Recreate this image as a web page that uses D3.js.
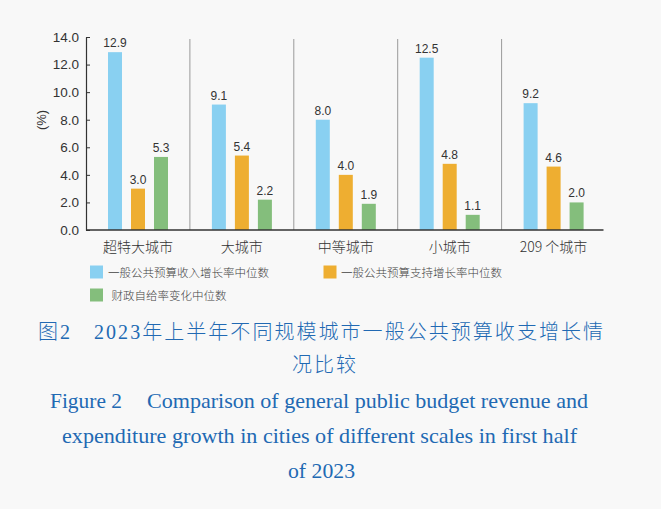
<!DOCTYPE html>
<html><head><meta charset="utf-8">
<script src="https://cdn.jsdelivr.net/npm/d3@7"></script>
<style>
html,body{margin:0;padding:0;background:#f8f8f8;}
svg{display:block;}
</style></head>
<body>
<svg id="chart" width="661" height="509"></svg>
<script>
const categories = ["超特大城市", "大城市", "中等城市", "小城市", "209 个城市"];
const seriesNames = ["一般公共预算收入增长率中位数", "一般公共预算支持增长率中位数", "财政自给率变化中位数"];
const revenueGrowth = [12.9, 9.1, 8.0, 12.5, 9.2];
const expenditureGrowth = [3.0, 5.4, 4.0, 4.8, 4.6];
const selfSufficiencyChange = [5.3, 2.2, 1.9, 1.1, 2.0];
const yTicks = [0, 2, 4, 6, 8, 10, 12, 14];
const colors = ["#89d0f1", "#eeae31", "#84be7c"];
const seriesValues = [revenueGrowth, expenditureGrowth, selfSufficiencyChange];

const svg = d3.select("#chart");
svg.append("rect").attr("width", 661).attr("height", 509).attr("fill", "#f8f8f8");

const x0 = 86, x1 = 605.5, yBase = 230, yTop = 37;
const x = d3.scaleBand().domain(categories).range([x0, x1]);
const xs = d3.scaleBand().domain(d3.range(3)).range([22, 82]).paddingInner(9/23).paddingOuter(0);
const y = d3.scaleLinear().domain([0, 14]).range([yBase, yTop]);

const numFont = "'Liberation Sans', Arial, Helvetica, sans-serif";
const cjkFont = "'Noto Sans CJK SC', 'Noto Sans', sans-serif";

// separators
svg.append("g").selectAll("line").data(categories.slice(1)).join("line")
  .attr("x1", d => x(d)).attr("x2", d => x(d))
  .attr("y1", y(14) + 2).attr("y2", yBase)
  .attr("stroke", "#9a9a9a").attr("stroke-width", 1);

// bars
const groups = svg.append("g").selectAll("g").data(categories).join("g")
  .attr("transform", d => `translate(${x(d)},0)`);
groups.selectAll("rect").data((d, i) => seriesValues.map((s, k) => ({k, v: s[i]}))).join("rect")
  .attr("x", d => xs(d.k)).attr("width", xs.bandwidth())
  .attr("y", d => y(d.v)).attr("height", d => yBase - y(d.v))
  .attr("fill", d => colors[d.k]);
groups.selectAll("text").data((d, i) => seriesValues.map((s, k) => ({k, v: s[i]}))).join("text")
  .attr("x", d => xs(d.k) + xs.bandwidth() / 2).attr("y", d => y(d.v) - 5)
  .attr("text-anchor", "middle").attr("font-family", numFont).attr("font-size", 12)
  .attr("fill", "#333").text(d => d.v.toFixed(1));

// y axis
const yAxis = d3.axisLeft(y).tickValues(yTicks).tickFormat(d3.format(".1f"))
  .tickSizeInner(-4).tickSizeOuter(0).tickPadding(7);
const ya = svg.append("g").attr("transform", `translate(${x0},0)`).call(yAxis);
ya.select(".domain").attr("stroke", "#333").attr("stroke-width", 1.2);
ya.selectAll(".tick line").attr("stroke", "#333");
ya.selectAll(".tick text").attr("font-family", numFont).attr("font-size", 13.5).attr("fill", "#333");

// x baseline
svg.append("line").attr("x1", x0).attr("x2", x1 - 2).attr("y1", yBase).attr("y2", yBase)
  .attr("stroke", "#333").attr("stroke-width", 1.5);

// category labels
svg.append("g").selectAll("text").data(categories).join("text")
  .attr("x", d => x(d) + x.bandwidth() / 2).attr("y", 251.5)
  .attr("text-anchor", "middle").attr("font-family", cjkFont).attr("font-size", 14)
  .attr("font-weight", 300).attr("fill", "#333").text(d => d);

// y label
svg.append("text").attr("transform", "translate(46,120) rotate(-90)")
  .attr("text-anchor", "middle").attr("font-family", numFont).attr("font-size", 13)
  .attr("fill", "#333").text("(%)");

// legend
const legendPos = [[90, 265.5, 108], [323.5, 265.5, 341], [90, 288.5, 111.5]];
const lg = svg.append("g").selectAll("g").data(seriesNames).join("g");
lg.append("rect").attr("x", (d, i) => legendPos[i][0]).attr("y", (d, i) => legendPos[i][1])
  .attr("width", 13).attr("height", 13).attr("fill", (d, i) => colors[i]);
lg.append("text").attr("x", (d, i) => legendPos[i][2]).attr("y", (d, i) => legendPos[i][1] + 6.5)
  .attr("dominant-baseline", "central").attr("font-family", cjkFont).attr("font-size", 11.5)
  .attr("font-weight", 300).attr("fill", "#444").text(d => d);

// caption
const capColor = "#2169b3";
const serifMix = "'Liberation Serif', 'Times New Roman', 'Noto Sans CJK SC', serif";
const cap = svg.append("g").attr("fill", capColor);
cap.append("text").attr("x", 38).attr("y", 339).attr("font-family", serifMix).attr("font-size", 20)
  .attr("font-weight", 300).attr("textLength", 32).attr("lengthAdjust", "spacing").text("图2");
cap.append("text").attr("x", 94).attr("y", 339).attr("font-family", serifMix).attr("font-size", 20)
  .attr("font-weight", 300).attr("textLength", 509).attr("lengthAdjust", "spacing")
  .text("2023年上半年不同规模城市一般公共预算收支增长情");
cap.append("text").attr("x", 292).attr("y", 372).attr("font-family", serifMix).attr("font-size", 20)
  .attr("font-weight", 300).attr("textLength", 64).attr("lengthAdjust", "spacing").text("况比较");

const enFont = "'Liberation Serif', 'Times New Roman', serif";
cap.append("text").attr("x", 50).attr("y", 408).attr("font-family", enFont).attr("font-size", 22)
  .attr("textLength", 72).attr("lengthAdjust", "spacingAndGlyphs").text("Figure 2");
cap.append("text").attr("x", 147).attr("y", 408).attr("font-family", enFont).attr("font-size", 22)
  .attr("textLength", 441).attr("lengthAdjust", "spacingAndGlyphs")
  .text("Comparison of general public budget revenue and");
cap.append("text").attr("x", 62).attr("y", 443).attr("font-family", enFont).attr("font-size", 22)
  .attr("textLength", 515).attr("lengthAdjust", "spacingAndGlyphs")
  .text("expenditure growth in cities of different scales in first half");
cap.append("text").attr("x", 288).attr("y", 478).attr("font-family", enFont).attr("font-size", 22)
  .attr("textLength", 67).attr("lengthAdjust", "spacingAndGlyphs").text("of 2023");
</script>
</body></html>
